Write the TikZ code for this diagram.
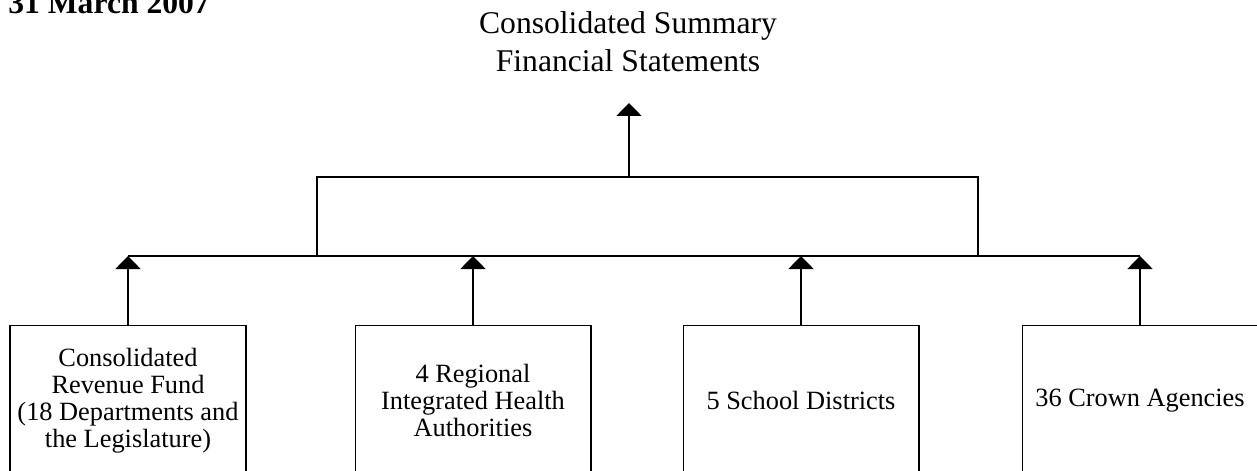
\documentclass[tikz,border=0pt]{standalone}
\usepackage{fontspec}
\setmainfont{Liberation Serif}
\usetikzlibrary{arrows.meta,positioning}

\tikzset{
  unit/.style={draw, line width=0.6pt, minimum width=4.72cm, minimum height=3cm,
    anchor=north, align=center, inner sep=2pt, font=\fontsize{15}{15.4}\selectfont},
  feed/.style={line width=1pt, -{Triangle[width=0.5cm,length=0.26cm]}},
  bus/.style={line width=1pt},
}

\begin{document}
\begin{tikzpicture}[x=0.02cm,y=-0.02cm]
\useasboundingbox (0,0) rectangle (1257,470);

% heading
\node[anchor=base west, inner sep=0pt, font=\fontsize{18}{21}\selectfont\bfseries] (date) at (8,13) {31 March 2007};
\node[anchor=north, inner sep=0pt, align=center, font=\fontsize{18}{21.5}\selectfont] (css) at (628,11.5)
  {Consolidated Summary\\Financial Statements};

% reporting units
\node[unit] (crf) at (128,325) {Consolidated\\Revenue Fund\\(18 Departments and\\the Legislature)};
\node[unit] (rha) at (473,325) {4 Regional\\Integrated Health\\Authorities};
\node[unit] (sd) at (801,325) {5 School Districts};
\node[unit] (ca) at (1140,325) {36 Crown Agencies};

% collector lines
\coordinate (tip) at (629,103);
\coordinate (joint) at (629,177);
\coordinate (busL) at (317,256);
\coordinate (busR) at (978,256);

\draw[bus] (crf.north |- busL) -- (ca.north |- busL);
\draw[bus] (busL) |- (joint) -| (busR);
\draw[feed] (joint) -- (tip);
\foreach \u in {crf,rha,sd,ca}
  \draw[feed] (\u.north) -- (\u.north |- busL);

\end{tikzpicture}
\end{document}
